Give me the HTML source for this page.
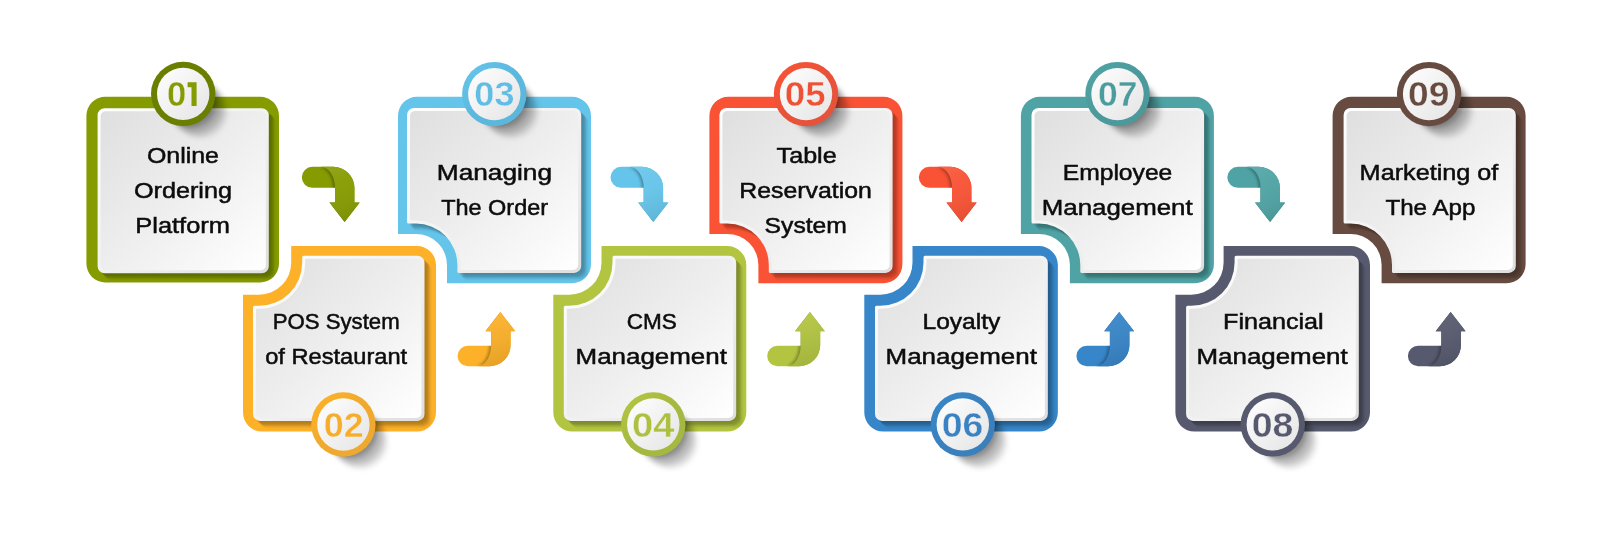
<!DOCTYPE html>
<html lang="en"><head><meta charset="utf-8"><title>Restaurant App Features</title>
<style>html,body{margin:0;padding:0;background:#fff}body{width:1612px;height:535px;overflow:hidden}svg{display:block;will-change:transform}text{font-family:"Liberation Sans",sans-serif}.lbl{font-size:22px;fill:#0c0c0c;stroke:#0c0c0c;stroke-width:.5px}.num{font-size:35.5px;font-weight:bold;stroke:#f3f3f3;stroke-width:.4px}</style></head><body>
<svg width="1612" height="535" viewBox="0 0 1612 535" role="img" aria-label="Nine step restaurant app feature flow">
<defs>
<linearGradient id="gp" x1="0" y1="0" x2="1" y2="1"><stop offset="0" stop-color="#dfdfdf"/><stop offset=".5" stop-color="#eeeeee"/><stop offset="1" stop-color="#ffffff"/></linearGradient>
<linearGradient id="gb" x1="0" y1="0" x2="1" y2="1"><stop offset="0" stop-color="#ffffff"/><stop offset=".5" stop-color="#f2f2f2"/><stop offset="1" stop-color="#dedede"/></linearGradient>
<linearGradient id="gc" x1="0" y1="0" x2="1" y2="1"><stop offset="0" stop-color="#ffffff"/><stop offset="1" stop-color="#e4e4e4"/></linearGradient>
<filter id="bs" x="-50%" y="-50%" width="220%" height="220%"><feGaussianBlur stdDeviation="4"/></filter>
<filter id="b2" x="-50%" y="-50%" width="220%" height="220%"><feGaussianBlur stdDeviation="0.9"/></filter>
<filter id="b3" x="-50%" y="-50%" width="220%" height="220%"><feGaussianBlur stdDeviation="2.4"/></filter>
<filter id="b1" x="-50%" y="-50%" width="200%" height="200%"><feGaussianBlur stdDeviation="1.6"/></filter>
<clipPath id="co1"><path d="M105.4,96.7H260A19,19 0 0 1 279,115.7V263.5A19,19 0 0 1 260,282.5H105.4A19,19 0 0 1 86.4,263.5V115.7A19,19 0 0 1 105.4,96.7Z"/></clipPath>
<clipPath id="co2"><path d="M291.2,246.1H417A19,19 0 0 1 436,265.1V412.6A19,19 0 0 1 417,431.6H262A19,19 0 0 1 243,412.6V294.8H259A32.2,32.2 0 0 0 291.2,262.6V246.1Z"/></clipPath>
<clipPath id="co3"><path d="M417,96.7H572A19,19 0 0 1 591,115.7V264.3A19,19 0 0 1 572,283.3H447V265A31,31 0 0 0 416,234H398V115.7A19,19 0 0 1 417,96.7Z"/></clipPath>
<clipPath id="co4"><path d="M601.5,246.1H727.3A19,19 0 0 1 746.3,265.1V412.6A19,19 0 0 1 727.3,431.6H572.3A19,19 0 0 1 553.3,412.6V294.8H569.3A32.2,32.2 0 0 0 601.5,262.6V246.1Z"/></clipPath>
<clipPath id="co5"><path d="M728.4,96.7H883.4A19,19 0 0 1 902.4,115.7V264.3A19,19 0 0 1 883.4,283.3H758.4V265A31,31 0 0 0 727.4,234H709.4V115.7A19,19 0 0 1 728.4,96.7Z"/></clipPath>
<clipPath id="co6"><path d="M912.5,246.1H1038.85A19,19 0 0 1 1057.85,265.1V412.6A19,19 0 0 1 1038.85,431.6H883.3A19,19 0 0 1 864.3,412.6V294.8H880.3A32.2,32.2 0 0 0 912.5,262.6V246.1Z"/></clipPath>
<clipPath id="co7"><path d="M1039.9,96.7H1194.9A19,19 0 0 1 1213.9,115.7V264.3A19,19 0 0 1 1194.9,283.3H1069.9V265A31,31 0 0 0 1038.9,234H1020.9V115.7A19,19 0 0 1 1039.9,96.7Z"/></clipPath>
<clipPath id="co8"><path d="M1223.6,246.1H1351A19,19 0 0 1 1370,265.1V412.6A19,19 0 0 1 1351,431.6H1194.4A19,19 0 0 1 1175.4,412.6V294.8H1191.4A32.2,32.2 0 0 0 1223.6,262.6V246.1Z"/></clipPath>
<clipPath id="co9"><path d="M1351.6,96.7H1506.6A19,19 0 0 1 1525.6,115.7V264.3A19,19 0 0 1 1506.6,283.3H1381.6V265A31,31 0 0 0 1350.6,234H1332.6V115.7A19,19 0 0 1 1351.6,96.7Z"/></clipPath>
</defs>
<rect width="1612" height="535" fill="#fff"/>
<g id="box1">
<path d="M105.4,96.7H260A19,19 0 0 1 279,115.7V263.5A19,19 0 0 1 260,282.5H105.4A19,19 0 0 1 86.4,263.5V115.7A19,19 0 0 1 105.4,96.7Z" fill="#869b00"/>
<g clip-path="url(#co1)" fill="#000">
<path d="M104.6,108.3H261.8A7,7 0 0 1 268.8,115.3V266.2A7,7 0 0 1 261.8,273.2H104.6A7,7 0 0 1 97.6,266.2V115.3A7,7 0 0 1 104.6,108.3Z" transform="translate(1,1)" fill-opacity="0.02"/>
<path d="M104.6,108.3H261.8A7,7 0 0 1 268.8,115.3V266.2A7,7 0 0 1 261.8,273.2H104.6A7,7 0 0 1 97.6,266.2V115.3A7,7 0 0 1 104.6,108.3Z" transform="translate(2,2)" fill-opacity="0.03"/>
<path d="M104.6,108.3H261.8A7,7 0 0 1 268.8,115.3V266.2A7,7 0 0 1 261.8,273.2H104.6A7,7 0 0 1 97.6,266.2V115.3A7,7 0 0 1 104.6,108.3Z" transform="translate(3,3)" fill-opacity="0.05"/>
<path d="M104.6,108.3H261.8A7,7 0 0 1 268.8,115.3V266.2A7,7 0 0 1 261.8,273.2H104.6A7,7 0 0 1 97.6,266.2V115.3A7,7 0 0 1 104.6,108.3Z" transform="translate(4,4)" fill-opacity="0.07"/>
<path d="M104.6,108.3H261.8A7,7 0 0 1 268.8,115.3V266.2A7,7 0 0 1 261.8,273.2H104.6A7,7 0 0 1 97.6,266.2V115.3A7,7 0 0 1 104.6,108.3Z" transform="translate(5,5)" fill-opacity="0.07"/>
<path d="M104.6,108.3H261.8A7,7 0 0 1 268.8,115.3V266.2A7,7 0 0 1 261.8,273.2H104.6A7,7 0 0 1 97.6,266.2V115.3A7,7 0 0 1 104.6,108.3Z" transform="translate(6,6)" fill-opacity="0.045"/>
<path d="M104.6,108.3H261.8A7,7 0 0 1 268.8,115.3V266.2A7,7 0 0 1 261.8,273.2H104.6A7,7 0 0 1 97.6,266.2V115.3A7,7 0 0 1 104.6,108.3Z" transform="translate(7,7)" fill-opacity="0.025"/>
<path d="M104.6,108.3H261.8A7,7 0 0 1 268.8,115.3V266.2A7,7 0 0 1 261.8,273.2H104.6A7,7 0 0 1 97.6,266.2V115.3A7,7 0 0 1 104.6,108.3Z" transform="translate(8,8)" fill-opacity="0.01"/>
</g>
<path d="M104.6,108.3H261.8A7,7 0 0 1 268.8,115.3V266.2A7,7 0 0 1 261.8,273.2H104.6A7,7 0 0 1 97.6,266.2V115.3A7,7 0 0 1 104.6,108.3Z" fill="url(#gb)"/>
<path d="M105.6,111.3H260.8A5,5 0 0 1 265.8,116.3V265.2A5,5 0 0 1 260.8,270.2H105.6A5,5 0 0 1 100.6,265.2V116.3A5,5 0 0 1 105.6,111.3Z" fill="url(#gp)"/>
</g>
<g id="box2">
<path d="M291.2,246.1H417A19,19 0 0 1 436,265.1V412.6A19,19 0 0 1 417,431.6H262A19,19 0 0 1 243,412.6V294.8H259A32.2,32.2 0 0 0 291.2,262.6V246.1Z" fill="#fdb128"/>
<g clip-path="url(#co2)" fill="#000">
<path d="M303.7,255.8H417.5A7,7 0 0 1 424.5,262.8V413.9A7,7 0 0 1 417.5,420.9H260A7,7 0 0 1 253,413.9V307.3A1.5,1.5 0 0 1 254.5,305.8H259A43.2,43.2 0 0 0 302.2,262.6V257.3A1.5,1.5 0 0 1 303.7,255.8Z" transform="translate(1,1)" fill-opacity="0.02"/>
<path d="M303.7,255.8H417.5A7,7 0 0 1 424.5,262.8V413.9A7,7 0 0 1 417.5,420.9H260A7,7 0 0 1 253,413.9V307.3A1.5,1.5 0 0 1 254.5,305.8H259A43.2,43.2 0 0 0 302.2,262.6V257.3A1.5,1.5 0 0 1 303.7,255.8Z" transform="translate(2,2)" fill-opacity="0.03"/>
<path d="M303.7,255.8H417.5A7,7 0 0 1 424.5,262.8V413.9A7,7 0 0 1 417.5,420.9H260A7,7 0 0 1 253,413.9V307.3A1.5,1.5 0 0 1 254.5,305.8H259A43.2,43.2 0 0 0 302.2,262.6V257.3A1.5,1.5 0 0 1 303.7,255.8Z" transform="translate(3,3)" fill-opacity="0.05"/>
<path d="M303.7,255.8H417.5A7,7 0 0 1 424.5,262.8V413.9A7,7 0 0 1 417.5,420.9H260A7,7 0 0 1 253,413.9V307.3A1.5,1.5 0 0 1 254.5,305.8H259A43.2,43.2 0 0 0 302.2,262.6V257.3A1.5,1.5 0 0 1 303.7,255.8Z" transform="translate(4,4)" fill-opacity="0.07"/>
<path d="M303.7,255.8H417.5A7,7 0 0 1 424.5,262.8V413.9A7,7 0 0 1 417.5,420.9H260A7,7 0 0 1 253,413.9V307.3A1.5,1.5 0 0 1 254.5,305.8H259A43.2,43.2 0 0 0 302.2,262.6V257.3A1.5,1.5 0 0 1 303.7,255.8Z" transform="translate(5,5)" fill-opacity="0.07"/>
<path d="M303.7,255.8H417.5A7,7 0 0 1 424.5,262.8V413.9A7,7 0 0 1 417.5,420.9H260A7,7 0 0 1 253,413.9V307.3A1.5,1.5 0 0 1 254.5,305.8H259A43.2,43.2 0 0 0 302.2,262.6V257.3A1.5,1.5 0 0 1 303.7,255.8Z" transform="translate(6,6)" fill-opacity="0.045"/>
<path d="M303.7,255.8H417.5A7,7 0 0 1 424.5,262.8V413.9A7,7 0 0 1 417.5,420.9H260A7,7 0 0 1 253,413.9V307.3A1.5,1.5 0 0 1 254.5,305.8H259A43.2,43.2 0 0 0 302.2,262.6V257.3A1.5,1.5 0 0 1 303.7,255.8Z" transform="translate(7,7)" fill-opacity="0.025"/>
<path d="M303.7,255.8H417.5A7,7 0 0 1 424.5,262.8V413.9A7,7 0 0 1 417.5,420.9H260A7,7 0 0 1 253,413.9V307.3A1.5,1.5 0 0 1 254.5,305.8H259A43.2,43.2 0 0 0 302.2,262.6V257.3A1.5,1.5 0 0 1 303.7,255.8Z" transform="translate(8,8)" fill-opacity="0.01"/>
</g>
<path d="M303.7,255.8H417.5A7,7 0 0 1 424.5,262.8V413.9A7,7 0 0 1 417.5,420.9H260A7,7 0 0 1 253,413.9V307.3A1.5,1.5 0 0 1 254.5,305.8H259A43.2,43.2 0 0 0 302.2,262.6V257.3A1.5,1.5 0 0 1 303.7,255.8Z" fill="url(#gb)"/>
<path d="M306.2,258.8H416.5A5,5 0 0 1 421.5,263.8V412.9A5,5 0 0 1 416.5,417.9H261A5,5 0 0 1 256,412.9V309.8A1,1 0 0 1 257,308.8H259A46.2,46.2 0 0 0 305.2,262.6V259.8A1,1 0 0 1 306.2,258.8Z" fill="url(#gp)"/>
</g>
<g id="box3">
<path d="M417,96.7H572A19,19 0 0 1 591,115.7V264.3A19,19 0 0 1 572,283.3H447V265A31,31 0 0 0 416,234H398V115.7A19,19 0 0 1 417,96.7Z" fill="#64c4ea"/>
<g clip-path="url(#co3)" fill="#000">
<path d="M414,107.9H574.2A7,7 0 0 1 581.2,114.9V265.9A7,7 0 0 1 574.2,272.9H458.9A1.5,1.5 0 0 1 457.4,271.4V265A41.4,41.4 0 0 0 416,223.6H408.5A1.5,1.5 0 0 1 407,222.1V114.9A7,7 0 0 1 414,107.9Z" transform="translate(1,1)" fill-opacity="0.02"/>
<path d="M414,107.9H574.2A7,7 0 0 1 581.2,114.9V265.9A7,7 0 0 1 574.2,272.9H458.9A1.5,1.5 0 0 1 457.4,271.4V265A41.4,41.4 0 0 0 416,223.6H408.5A1.5,1.5 0 0 1 407,222.1V114.9A7,7 0 0 1 414,107.9Z" transform="translate(2,2)" fill-opacity="0.03"/>
<path d="M414,107.9H574.2A7,7 0 0 1 581.2,114.9V265.9A7,7 0 0 1 574.2,272.9H458.9A1.5,1.5 0 0 1 457.4,271.4V265A41.4,41.4 0 0 0 416,223.6H408.5A1.5,1.5 0 0 1 407,222.1V114.9A7,7 0 0 1 414,107.9Z" transform="translate(3,3)" fill-opacity="0.05"/>
<path d="M414,107.9H574.2A7,7 0 0 1 581.2,114.9V265.9A7,7 0 0 1 574.2,272.9H458.9A1.5,1.5 0 0 1 457.4,271.4V265A41.4,41.4 0 0 0 416,223.6H408.5A1.5,1.5 0 0 1 407,222.1V114.9A7,7 0 0 1 414,107.9Z" transform="translate(4,4)" fill-opacity="0.07"/>
<path d="M414,107.9H574.2A7,7 0 0 1 581.2,114.9V265.9A7,7 0 0 1 574.2,272.9H458.9A1.5,1.5 0 0 1 457.4,271.4V265A41.4,41.4 0 0 0 416,223.6H408.5A1.5,1.5 0 0 1 407,222.1V114.9A7,7 0 0 1 414,107.9Z" transform="translate(5,5)" fill-opacity="0.07"/>
<path d="M414,107.9H574.2A7,7 0 0 1 581.2,114.9V265.9A7,7 0 0 1 574.2,272.9H458.9A1.5,1.5 0 0 1 457.4,271.4V265A41.4,41.4 0 0 0 416,223.6H408.5A1.5,1.5 0 0 1 407,222.1V114.9A7,7 0 0 1 414,107.9Z" transform="translate(6,6)" fill-opacity="0.045"/>
<path d="M414,107.9H574.2A7,7 0 0 1 581.2,114.9V265.9A7,7 0 0 1 574.2,272.9H458.9A1.5,1.5 0 0 1 457.4,271.4V265A41.4,41.4 0 0 0 416,223.6H408.5A1.5,1.5 0 0 1 407,222.1V114.9A7,7 0 0 1 414,107.9Z" transform="translate(7,7)" fill-opacity="0.025"/>
<path d="M414,107.9H574.2A7,7 0 0 1 581.2,114.9V265.9A7,7 0 0 1 574.2,272.9H458.9A1.5,1.5 0 0 1 457.4,271.4V265A41.4,41.4 0 0 0 416,223.6H408.5A1.5,1.5 0 0 1 407,222.1V114.9A7,7 0 0 1 414,107.9Z" transform="translate(8,8)" fill-opacity="0.01"/>
</g>
<path d="M414,107.9H574.2A7,7 0 0 1 581.2,114.9V265.9A7,7 0 0 1 574.2,272.9H458.9A1.5,1.5 0 0 1 457.4,271.4V265A41.4,41.4 0 0 0 416,223.6H408.5A1.5,1.5 0 0 1 407,222.1V114.9A7,7 0 0 1 414,107.9Z" fill="url(#gb)"/>
<path d="M415,110.9H573.2A5,5 0 0 1 578.2,115.9V264.9A5,5 0 0 1 573.2,269.9H461.4A1,1 0 0 1 460.4,268.9V265A44.4,44.4 0 0 0 416,220.6H411A1,1 0 0 1 410,219.6V115.9A5,5 0 0 1 415,110.9Z" fill="url(#gp)"/>
</g>
<g id="box4">
<path d="M601.5,246.1H727.3A19,19 0 0 1 746.3,265.1V412.6A19,19 0 0 1 727.3,431.6H572.3A19,19 0 0 1 553.3,412.6V294.8H569.3A32.2,32.2 0 0 0 601.5,262.6V246.1Z" fill="#b3c540"/>
<g clip-path="url(#co4)" fill="#000">
<path d="M614,255.8H729.2A7,7 0 0 1 736.2,262.8V413.9A7,7 0 0 1 729.2,420.9H570.8A7,7 0 0 1 563.8,413.9V307.3A1.5,1.5 0 0 1 565.3,305.8H569.3A43.2,43.2 0 0 0 612.5,262.6V257.3A1.5,1.5 0 0 1 614,255.8Z" transform="translate(1,1)" fill-opacity="0.02"/>
<path d="M614,255.8H729.2A7,7 0 0 1 736.2,262.8V413.9A7,7 0 0 1 729.2,420.9H570.8A7,7 0 0 1 563.8,413.9V307.3A1.5,1.5 0 0 1 565.3,305.8H569.3A43.2,43.2 0 0 0 612.5,262.6V257.3A1.5,1.5 0 0 1 614,255.8Z" transform="translate(2,2)" fill-opacity="0.03"/>
<path d="M614,255.8H729.2A7,7 0 0 1 736.2,262.8V413.9A7,7 0 0 1 729.2,420.9H570.8A7,7 0 0 1 563.8,413.9V307.3A1.5,1.5 0 0 1 565.3,305.8H569.3A43.2,43.2 0 0 0 612.5,262.6V257.3A1.5,1.5 0 0 1 614,255.8Z" transform="translate(3,3)" fill-opacity="0.05"/>
<path d="M614,255.8H729.2A7,7 0 0 1 736.2,262.8V413.9A7,7 0 0 1 729.2,420.9H570.8A7,7 0 0 1 563.8,413.9V307.3A1.5,1.5 0 0 1 565.3,305.8H569.3A43.2,43.2 0 0 0 612.5,262.6V257.3A1.5,1.5 0 0 1 614,255.8Z" transform="translate(4,4)" fill-opacity="0.07"/>
<path d="M614,255.8H729.2A7,7 0 0 1 736.2,262.8V413.9A7,7 0 0 1 729.2,420.9H570.8A7,7 0 0 1 563.8,413.9V307.3A1.5,1.5 0 0 1 565.3,305.8H569.3A43.2,43.2 0 0 0 612.5,262.6V257.3A1.5,1.5 0 0 1 614,255.8Z" transform="translate(5,5)" fill-opacity="0.07"/>
<path d="M614,255.8H729.2A7,7 0 0 1 736.2,262.8V413.9A7,7 0 0 1 729.2,420.9H570.8A7,7 0 0 1 563.8,413.9V307.3A1.5,1.5 0 0 1 565.3,305.8H569.3A43.2,43.2 0 0 0 612.5,262.6V257.3A1.5,1.5 0 0 1 614,255.8Z" transform="translate(6,6)" fill-opacity="0.045"/>
<path d="M614,255.8H729.2A7,7 0 0 1 736.2,262.8V413.9A7,7 0 0 1 729.2,420.9H570.8A7,7 0 0 1 563.8,413.9V307.3A1.5,1.5 0 0 1 565.3,305.8H569.3A43.2,43.2 0 0 0 612.5,262.6V257.3A1.5,1.5 0 0 1 614,255.8Z" transform="translate(7,7)" fill-opacity="0.025"/>
<path d="M614,255.8H729.2A7,7 0 0 1 736.2,262.8V413.9A7,7 0 0 1 729.2,420.9H570.8A7,7 0 0 1 563.8,413.9V307.3A1.5,1.5 0 0 1 565.3,305.8H569.3A43.2,43.2 0 0 0 612.5,262.6V257.3A1.5,1.5 0 0 1 614,255.8Z" transform="translate(8,8)" fill-opacity="0.01"/>
</g>
<path d="M614,255.8H729.2A7,7 0 0 1 736.2,262.8V413.9A7,7 0 0 1 729.2,420.9H570.8A7,7 0 0 1 563.8,413.9V307.3A1.5,1.5 0 0 1 565.3,305.8H569.3A43.2,43.2 0 0 0 612.5,262.6V257.3A1.5,1.5 0 0 1 614,255.8Z" fill="url(#gb)"/>
<path d="M616.5,258.8H728.2A5,5 0 0 1 733.2,263.8V412.9A5,5 0 0 1 728.2,417.9H571.8A5,5 0 0 1 566.8,412.9V309.8A1,1 0 0 1 567.8,308.8H569.3A46.2,46.2 0 0 0 615.5,262.6V259.8A1,1 0 0 1 616.5,258.8Z" fill="url(#gp)"/>
</g>
<g id="box5">
<path d="M728.4,96.7H883.4A19,19 0 0 1 902.4,115.7V264.3A19,19 0 0 1 883.4,283.3H758.4V265A31,31 0 0 0 727.4,234H709.4V115.7A19,19 0 0 1 728.4,96.7Z" fill="#f95234"/>
<g clip-path="url(#co5)" fill="#000">
<path d="M726.4,107.9H885.6A7,7 0 0 1 892.6,114.9V265.9A7,7 0 0 1 885.6,272.9H770.3A1.5,1.5 0 0 1 768.8,271.4V265A41.4,41.4 0 0 0 727.4,223.6H720.9A1.5,1.5 0 0 1 719.4,222.1V114.9A7,7 0 0 1 726.4,107.9Z" transform="translate(1,1)" fill-opacity="0.02"/>
<path d="M726.4,107.9H885.6A7,7 0 0 1 892.6,114.9V265.9A7,7 0 0 1 885.6,272.9H770.3A1.5,1.5 0 0 1 768.8,271.4V265A41.4,41.4 0 0 0 727.4,223.6H720.9A1.5,1.5 0 0 1 719.4,222.1V114.9A7,7 0 0 1 726.4,107.9Z" transform="translate(2,2)" fill-opacity="0.03"/>
<path d="M726.4,107.9H885.6A7,7 0 0 1 892.6,114.9V265.9A7,7 0 0 1 885.6,272.9H770.3A1.5,1.5 0 0 1 768.8,271.4V265A41.4,41.4 0 0 0 727.4,223.6H720.9A1.5,1.5 0 0 1 719.4,222.1V114.9A7,7 0 0 1 726.4,107.9Z" transform="translate(3,3)" fill-opacity="0.05"/>
<path d="M726.4,107.9H885.6A7,7 0 0 1 892.6,114.9V265.9A7,7 0 0 1 885.6,272.9H770.3A1.5,1.5 0 0 1 768.8,271.4V265A41.4,41.4 0 0 0 727.4,223.6H720.9A1.5,1.5 0 0 1 719.4,222.1V114.9A7,7 0 0 1 726.4,107.9Z" transform="translate(4,4)" fill-opacity="0.07"/>
<path d="M726.4,107.9H885.6A7,7 0 0 1 892.6,114.9V265.9A7,7 0 0 1 885.6,272.9H770.3A1.5,1.5 0 0 1 768.8,271.4V265A41.4,41.4 0 0 0 727.4,223.6H720.9A1.5,1.5 0 0 1 719.4,222.1V114.9A7,7 0 0 1 726.4,107.9Z" transform="translate(5,5)" fill-opacity="0.07"/>
<path d="M726.4,107.9H885.6A7,7 0 0 1 892.6,114.9V265.9A7,7 0 0 1 885.6,272.9H770.3A1.5,1.5 0 0 1 768.8,271.4V265A41.4,41.4 0 0 0 727.4,223.6H720.9A1.5,1.5 0 0 1 719.4,222.1V114.9A7,7 0 0 1 726.4,107.9Z" transform="translate(6,6)" fill-opacity="0.045"/>
<path d="M726.4,107.9H885.6A7,7 0 0 1 892.6,114.9V265.9A7,7 0 0 1 885.6,272.9H770.3A1.5,1.5 0 0 1 768.8,271.4V265A41.4,41.4 0 0 0 727.4,223.6H720.9A1.5,1.5 0 0 1 719.4,222.1V114.9A7,7 0 0 1 726.4,107.9Z" transform="translate(7,7)" fill-opacity="0.025"/>
<path d="M726.4,107.9H885.6A7,7 0 0 1 892.6,114.9V265.9A7,7 0 0 1 885.6,272.9H770.3A1.5,1.5 0 0 1 768.8,271.4V265A41.4,41.4 0 0 0 727.4,223.6H720.9A1.5,1.5 0 0 1 719.4,222.1V114.9A7,7 0 0 1 726.4,107.9Z" transform="translate(8,8)" fill-opacity="0.01"/>
</g>
<path d="M726.4,107.9H885.6A7,7 0 0 1 892.6,114.9V265.9A7,7 0 0 1 885.6,272.9H770.3A1.5,1.5 0 0 1 768.8,271.4V265A41.4,41.4 0 0 0 727.4,223.6H720.9A1.5,1.5 0 0 1 719.4,222.1V114.9A7,7 0 0 1 726.4,107.9Z" fill="url(#gb)"/>
<path d="M727.4,110.9H884.6A5,5 0 0 1 889.6,115.9V264.9A5,5 0 0 1 884.6,269.9H772.8A1,1 0 0 1 771.8,268.9V265A44.4,44.4 0 0 0 727.4,220.6H723.4A1,1 0 0 1 722.4,219.6V115.9A5,5 0 0 1 727.4,110.9Z" fill="url(#gp)"/>
</g>
<g id="box6">
<path d="M912.5,246.1H1038.85A19,19 0 0 1 1057.85,265.1V412.6A19,19 0 0 1 1038.85,431.6H883.3A19,19 0 0 1 864.3,412.6V294.8H880.3A32.2,32.2 0 0 0 912.5,262.6V246.1Z" fill="#3786c9"/>
<g clip-path="url(#co6)" fill="#000">
<path d="M925,255.8H1040.85A7,7 0 0 1 1047.85,262.8V413.9A7,7 0 0 1 1040.85,420.9H882A7,7 0 0 1 875,413.9V307.3A1.5,1.5 0 0 1 876.5,305.8H880.3A43.2,43.2 0 0 0 923.5,262.6V257.3A1.5,1.5 0 0 1 925,255.8Z" transform="translate(1,1)" fill-opacity="0.02"/>
<path d="M925,255.8H1040.85A7,7 0 0 1 1047.85,262.8V413.9A7,7 0 0 1 1040.85,420.9H882A7,7 0 0 1 875,413.9V307.3A1.5,1.5 0 0 1 876.5,305.8H880.3A43.2,43.2 0 0 0 923.5,262.6V257.3A1.5,1.5 0 0 1 925,255.8Z" transform="translate(2,2)" fill-opacity="0.03"/>
<path d="M925,255.8H1040.85A7,7 0 0 1 1047.85,262.8V413.9A7,7 0 0 1 1040.85,420.9H882A7,7 0 0 1 875,413.9V307.3A1.5,1.5 0 0 1 876.5,305.8H880.3A43.2,43.2 0 0 0 923.5,262.6V257.3A1.5,1.5 0 0 1 925,255.8Z" transform="translate(3,3)" fill-opacity="0.05"/>
<path d="M925,255.8H1040.85A7,7 0 0 1 1047.85,262.8V413.9A7,7 0 0 1 1040.85,420.9H882A7,7 0 0 1 875,413.9V307.3A1.5,1.5 0 0 1 876.5,305.8H880.3A43.2,43.2 0 0 0 923.5,262.6V257.3A1.5,1.5 0 0 1 925,255.8Z" transform="translate(4,4)" fill-opacity="0.07"/>
<path d="M925,255.8H1040.85A7,7 0 0 1 1047.85,262.8V413.9A7,7 0 0 1 1040.85,420.9H882A7,7 0 0 1 875,413.9V307.3A1.5,1.5 0 0 1 876.5,305.8H880.3A43.2,43.2 0 0 0 923.5,262.6V257.3A1.5,1.5 0 0 1 925,255.8Z" transform="translate(5,5)" fill-opacity="0.07"/>
<path d="M925,255.8H1040.85A7,7 0 0 1 1047.85,262.8V413.9A7,7 0 0 1 1040.85,420.9H882A7,7 0 0 1 875,413.9V307.3A1.5,1.5 0 0 1 876.5,305.8H880.3A43.2,43.2 0 0 0 923.5,262.6V257.3A1.5,1.5 0 0 1 925,255.8Z" transform="translate(6,6)" fill-opacity="0.045"/>
<path d="M925,255.8H1040.85A7,7 0 0 1 1047.85,262.8V413.9A7,7 0 0 1 1040.85,420.9H882A7,7 0 0 1 875,413.9V307.3A1.5,1.5 0 0 1 876.5,305.8H880.3A43.2,43.2 0 0 0 923.5,262.6V257.3A1.5,1.5 0 0 1 925,255.8Z" transform="translate(7,7)" fill-opacity="0.025"/>
<path d="M925,255.8H1040.85A7,7 0 0 1 1047.85,262.8V413.9A7,7 0 0 1 1040.85,420.9H882A7,7 0 0 1 875,413.9V307.3A1.5,1.5 0 0 1 876.5,305.8H880.3A43.2,43.2 0 0 0 923.5,262.6V257.3A1.5,1.5 0 0 1 925,255.8Z" transform="translate(8,8)" fill-opacity="0.01"/>
</g>
<path d="M925,255.8H1040.85A7,7 0 0 1 1047.85,262.8V413.9A7,7 0 0 1 1040.85,420.9H882A7,7 0 0 1 875,413.9V307.3A1.5,1.5 0 0 1 876.5,305.8H880.3A43.2,43.2 0 0 0 923.5,262.6V257.3A1.5,1.5 0 0 1 925,255.8Z" fill="url(#gb)"/>
<path d="M927.5,258.8H1039.85A5,5 0 0 1 1044.85,263.8V412.9A5,5 0 0 1 1039.85,417.9H883A5,5 0 0 1 878,412.9V309.8A1,1 0 0 1 879,308.8H880.3A46.2,46.2 0 0 0 926.5,262.6V259.8A1,1 0 0 1 927.5,258.8Z" fill="url(#gp)"/>
</g>
<g id="box7">
<path d="M1039.9,96.7H1194.9A19,19 0 0 1 1213.9,115.7V264.3A19,19 0 0 1 1194.9,283.3H1069.9V265A31,31 0 0 0 1038.9,234H1020.9V115.7A19,19 0 0 1 1039.9,96.7Z" fill="#4fa3a4"/>
<g clip-path="url(#co7)" fill="#000">
<path d="M1038.5,107.9H1197.1A7,7 0 0 1 1204.1,114.9V265.9A7,7 0 0 1 1197.1,272.9H1081.8A1.5,1.5 0 0 1 1080.3,271.4V265A41.4,41.4 0 0 0 1038.9,223.6H1033A1.5,1.5 0 0 1 1031.5,222.1V114.9A7,7 0 0 1 1038.5,107.9Z" transform="translate(1,1)" fill-opacity="0.02"/>
<path d="M1038.5,107.9H1197.1A7,7 0 0 1 1204.1,114.9V265.9A7,7 0 0 1 1197.1,272.9H1081.8A1.5,1.5 0 0 1 1080.3,271.4V265A41.4,41.4 0 0 0 1038.9,223.6H1033A1.5,1.5 0 0 1 1031.5,222.1V114.9A7,7 0 0 1 1038.5,107.9Z" transform="translate(2,2)" fill-opacity="0.03"/>
<path d="M1038.5,107.9H1197.1A7,7 0 0 1 1204.1,114.9V265.9A7,7 0 0 1 1197.1,272.9H1081.8A1.5,1.5 0 0 1 1080.3,271.4V265A41.4,41.4 0 0 0 1038.9,223.6H1033A1.5,1.5 0 0 1 1031.5,222.1V114.9A7,7 0 0 1 1038.5,107.9Z" transform="translate(3,3)" fill-opacity="0.05"/>
<path d="M1038.5,107.9H1197.1A7,7 0 0 1 1204.1,114.9V265.9A7,7 0 0 1 1197.1,272.9H1081.8A1.5,1.5 0 0 1 1080.3,271.4V265A41.4,41.4 0 0 0 1038.9,223.6H1033A1.5,1.5 0 0 1 1031.5,222.1V114.9A7,7 0 0 1 1038.5,107.9Z" transform="translate(4,4)" fill-opacity="0.07"/>
<path d="M1038.5,107.9H1197.1A7,7 0 0 1 1204.1,114.9V265.9A7,7 0 0 1 1197.1,272.9H1081.8A1.5,1.5 0 0 1 1080.3,271.4V265A41.4,41.4 0 0 0 1038.9,223.6H1033A1.5,1.5 0 0 1 1031.5,222.1V114.9A7,7 0 0 1 1038.5,107.9Z" transform="translate(5,5)" fill-opacity="0.07"/>
<path d="M1038.5,107.9H1197.1A7,7 0 0 1 1204.1,114.9V265.9A7,7 0 0 1 1197.1,272.9H1081.8A1.5,1.5 0 0 1 1080.3,271.4V265A41.4,41.4 0 0 0 1038.9,223.6H1033A1.5,1.5 0 0 1 1031.5,222.1V114.9A7,7 0 0 1 1038.5,107.9Z" transform="translate(6,6)" fill-opacity="0.045"/>
<path d="M1038.5,107.9H1197.1A7,7 0 0 1 1204.1,114.9V265.9A7,7 0 0 1 1197.1,272.9H1081.8A1.5,1.5 0 0 1 1080.3,271.4V265A41.4,41.4 0 0 0 1038.9,223.6H1033A1.5,1.5 0 0 1 1031.5,222.1V114.9A7,7 0 0 1 1038.5,107.9Z" transform="translate(7,7)" fill-opacity="0.025"/>
<path d="M1038.5,107.9H1197.1A7,7 0 0 1 1204.1,114.9V265.9A7,7 0 0 1 1197.1,272.9H1081.8A1.5,1.5 0 0 1 1080.3,271.4V265A41.4,41.4 0 0 0 1038.9,223.6H1033A1.5,1.5 0 0 1 1031.5,222.1V114.9A7,7 0 0 1 1038.5,107.9Z" transform="translate(8,8)" fill-opacity="0.01"/>
</g>
<path d="M1038.5,107.9H1197.1A7,7 0 0 1 1204.1,114.9V265.9A7,7 0 0 1 1197.1,272.9H1081.8A1.5,1.5 0 0 1 1080.3,271.4V265A41.4,41.4 0 0 0 1038.9,223.6H1033A1.5,1.5 0 0 1 1031.5,222.1V114.9A7,7 0 0 1 1038.5,107.9Z" fill="url(#gb)"/>
<path d="M1039.5,110.9H1196.1A5,5 0 0 1 1201.1,115.9V264.9A5,5 0 0 1 1196.1,269.9H1084.3A1,1 0 0 1 1083.3,268.9V265A44.4,44.4 0 0 0 1038.9,220.6H1035.5A1,1 0 0 1 1034.5,219.6V115.9A5,5 0 0 1 1039.5,110.9Z" fill="url(#gp)"/>
</g>
<g id="box8">
<path d="M1223.6,246.1H1351A19,19 0 0 1 1370,265.1V412.6A19,19 0 0 1 1351,431.6H1194.4A19,19 0 0 1 1175.4,412.6V294.8H1191.4A32.2,32.2 0 0 0 1223.6,262.6V246.1Z" fill="#575a6e"/>
<g clip-path="url(#co8)" fill="#000">
<path d="M1236.1,255.8H1351.8A7,7 0 0 1 1358.8,262.8V413.9A7,7 0 0 1 1351.8,420.9H1193.1A7,7 0 0 1 1186.1,413.9V307.3A1.5,1.5 0 0 1 1187.6,305.8H1191.4A43.2,43.2 0 0 0 1234.6,262.6V257.3A1.5,1.5 0 0 1 1236.1,255.8Z" transform="translate(1,1)" fill-opacity="0.02"/>
<path d="M1236.1,255.8H1351.8A7,7 0 0 1 1358.8,262.8V413.9A7,7 0 0 1 1351.8,420.9H1193.1A7,7 0 0 1 1186.1,413.9V307.3A1.5,1.5 0 0 1 1187.6,305.8H1191.4A43.2,43.2 0 0 0 1234.6,262.6V257.3A1.5,1.5 0 0 1 1236.1,255.8Z" transform="translate(2,2)" fill-opacity="0.03"/>
<path d="M1236.1,255.8H1351.8A7,7 0 0 1 1358.8,262.8V413.9A7,7 0 0 1 1351.8,420.9H1193.1A7,7 0 0 1 1186.1,413.9V307.3A1.5,1.5 0 0 1 1187.6,305.8H1191.4A43.2,43.2 0 0 0 1234.6,262.6V257.3A1.5,1.5 0 0 1 1236.1,255.8Z" transform="translate(3,3)" fill-opacity="0.05"/>
<path d="M1236.1,255.8H1351.8A7,7 0 0 1 1358.8,262.8V413.9A7,7 0 0 1 1351.8,420.9H1193.1A7,7 0 0 1 1186.1,413.9V307.3A1.5,1.5 0 0 1 1187.6,305.8H1191.4A43.2,43.2 0 0 0 1234.6,262.6V257.3A1.5,1.5 0 0 1 1236.1,255.8Z" transform="translate(4,4)" fill-opacity="0.07"/>
<path d="M1236.1,255.8H1351.8A7,7 0 0 1 1358.8,262.8V413.9A7,7 0 0 1 1351.8,420.9H1193.1A7,7 0 0 1 1186.1,413.9V307.3A1.5,1.5 0 0 1 1187.6,305.8H1191.4A43.2,43.2 0 0 0 1234.6,262.6V257.3A1.5,1.5 0 0 1 1236.1,255.8Z" transform="translate(5,5)" fill-opacity="0.07"/>
<path d="M1236.1,255.8H1351.8A7,7 0 0 1 1358.8,262.8V413.9A7,7 0 0 1 1351.8,420.9H1193.1A7,7 0 0 1 1186.1,413.9V307.3A1.5,1.5 0 0 1 1187.6,305.8H1191.4A43.2,43.2 0 0 0 1234.6,262.6V257.3A1.5,1.5 0 0 1 1236.1,255.8Z" transform="translate(6,6)" fill-opacity="0.045"/>
<path d="M1236.1,255.8H1351.8A7,7 0 0 1 1358.8,262.8V413.9A7,7 0 0 1 1351.8,420.9H1193.1A7,7 0 0 1 1186.1,413.9V307.3A1.5,1.5 0 0 1 1187.6,305.8H1191.4A43.2,43.2 0 0 0 1234.6,262.6V257.3A1.5,1.5 0 0 1 1236.1,255.8Z" transform="translate(7,7)" fill-opacity="0.025"/>
<path d="M1236.1,255.8H1351.8A7,7 0 0 1 1358.8,262.8V413.9A7,7 0 0 1 1351.8,420.9H1193.1A7,7 0 0 1 1186.1,413.9V307.3A1.5,1.5 0 0 1 1187.6,305.8H1191.4A43.2,43.2 0 0 0 1234.6,262.6V257.3A1.5,1.5 0 0 1 1236.1,255.8Z" transform="translate(8,8)" fill-opacity="0.01"/>
</g>
<path d="M1236.1,255.8H1351.8A7,7 0 0 1 1358.8,262.8V413.9A7,7 0 0 1 1351.8,420.9H1193.1A7,7 0 0 1 1186.1,413.9V307.3A1.5,1.5 0 0 1 1187.6,305.8H1191.4A43.2,43.2 0 0 0 1234.6,262.6V257.3A1.5,1.5 0 0 1 1236.1,255.8Z" fill="url(#gb)"/>
<path d="M1238.6,258.8H1350.8A5,5 0 0 1 1355.8,263.8V412.9A5,5 0 0 1 1350.8,417.9H1194.1A5,5 0 0 1 1189.1,412.9V309.8A1,1 0 0 1 1190.1,308.8H1191.4A46.2,46.2 0 0 0 1237.6,262.6V259.8A1,1 0 0 1 1238.6,258.8Z" fill="url(#gp)"/>
</g>
<g id="box9">
<path d="M1351.6,96.7H1506.6A19,19 0 0 1 1525.6,115.7V264.3A19,19 0 0 1 1506.6,283.3H1381.6V265A31,31 0 0 0 1350.6,234H1332.6V115.7A19,19 0 0 1 1351.6,96.7Z" fill="#674b40"/>
<g clip-path="url(#co9)" fill="#000">
<path d="M1350.6,107.9H1508.8A7,7 0 0 1 1515.8,114.9V265.9A7,7 0 0 1 1508.8,272.9H1393.5A1.5,1.5 0 0 1 1392,271.4V265A41.4,41.4 0 0 0 1350.6,223.6H1345.1A1.5,1.5 0 0 1 1343.6,222.1V114.9A7,7 0 0 1 1350.6,107.9Z" transform="translate(1,1)" fill-opacity="0.02"/>
<path d="M1350.6,107.9H1508.8A7,7 0 0 1 1515.8,114.9V265.9A7,7 0 0 1 1508.8,272.9H1393.5A1.5,1.5 0 0 1 1392,271.4V265A41.4,41.4 0 0 0 1350.6,223.6H1345.1A1.5,1.5 0 0 1 1343.6,222.1V114.9A7,7 0 0 1 1350.6,107.9Z" transform="translate(2,2)" fill-opacity="0.03"/>
<path d="M1350.6,107.9H1508.8A7,7 0 0 1 1515.8,114.9V265.9A7,7 0 0 1 1508.8,272.9H1393.5A1.5,1.5 0 0 1 1392,271.4V265A41.4,41.4 0 0 0 1350.6,223.6H1345.1A1.5,1.5 0 0 1 1343.6,222.1V114.9A7,7 0 0 1 1350.6,107.9Z" transform="translate(3,3)" fill-opacity="0.05"/>
<path d="M1350.6,107.9H1508.8A7,7 0 0 1 1515.8,114.9V265.9A7,7 0 0 1 1508.8,272.9H1393.5A1.5,1.5 0 0 1 1392,271.4V265A41.4,41.4 0 0 0 1350.6,223.6H1345.1A1.5,1.5 0 0 1 1343.6,222.1V114.9A7,7 0 0 1 1350.6,107.9Z" transform="translate(4,4)" fill-opacity="0.07"/>
<path d="M1350.6,107.9H1508.8A7,7 0 0 1 1515.8,114.9V265.9A7,7 0 0 1 1508.8,272.9H1393.5A1.5,1.5 0 0 1 1392,271.4V265A41.4,41.4 0 0 0 1350.6,223.6H1345.1A1.5,1.5 0 0 1 1343.6,222.1V114.9A7,7 0 0 1 1350.6,107.9Z" transform="translate(5,5)" fill-opacity="0.07"/>
<path d="M1350.6,107.9H1508.8A7,7 0 0 1 1515.8,114.9V265.9A7,7 0 0 1 1508.8,272.9H1393.5A1.5,1.5 0 0 1 1392,271.4V265A41.4,41.4 0 0 0 1350.6,223.6H1345.1A1.5,1.5 0 0 1 1343.6,222.1V114.9A7,7 0 0 1 1350.6,107.9Z" transform="translate(6,6)" fill-opacity="0.045"/>
<path d="M1350.6,107.9H1508.8A7,7 0 0 1 1515.8,114.9V265.9A7,7 0 0 1 1508.8,272.9H1393.5A1.5,1.5 0 0 1 1392,271.4V265A41.4,41.4 0 0 0 1350.6,223.6H1345.1A1.5,1.5 0 0 1 1343.6,222.1V114.9A7,7 0 0 1 1350.6,107.9Z" transform="translate(7,7)" fill-opacity="0.025"/>
<path d="M1350.6,107.9H1508.8A7,7 0 0 1 1515.8,114.9V265.9A7,7 0 0 1 1508.8,272.9H1393.5A1.5,1.5 0 0 1 1392,271.4V265A41.4,41.4 0 0 0 1350.6,223.6H1345.1A1.5,1.5 0 0 1 1343.6,222.1V114.9A7,7 0 0 1 1350.6,107.9Z" transform="translate(8,8)" fill-opacity="0.01"/>
</g>
<path d="M1350.6,107.9H1508.8A7,7 0 0 1 1515.8,114.9V265.9A7,7 0 0 1 1508.8,272.9H1393.5A1.5,1.5 0 0 1 1392,271.4V265A41.4,41.4 0 0 0 1350.6,223.6H1345.1A1.5,1.5 0 0 1 1343.6,222.1V114.9A7,7 0 0 1 1350.6,107.9Z" fill="url(#gb)"/>
<path d="M1351.6,110.9H1507.8A5,5 0 0 1 1512.8,115.9V264.9A5,5 0 0 1 1507.8,269.9H1396A1,1 0 0 1 1395,268.9V265A44.4,44.4 0 0 0 1350.6,220.6H1347.6A1,1 0 0 1 1346.6,219.6V115.9A5,5 0 0 1 1351.6,110.9Z" fill="url(#gp)"/>
</g>
<text class="lbl" x="146.95" y="162.8" textLength="72" lengthAdjust="spacingAndGlyphs">Online</text>
<text class="lbl" x="133.9" y="197.7" textLength="98.09" lengthAdjust="spacingAndGlyphs">Ordering</text>
<text class="lbl" x="135.31" y="232.7" textLength="94.67" lengthAdjust="spacingAndGlyphs">Platform</text>
<text class="lbl" x="272.76" y="328.7" textLength="126.85" lengthAdjust="spacingAndGlyphs">POS System</text>
<text class="lbl" x="265.21" y="363.5" textLength="141.96" lengthAdjust="spacingAndGlyphs">of Restaurant</text>
<text class="lbl" x="436.89" y="179.7" textLength="115.13" lengthAdjust="spacingAndGlyphs">Managing</text>
<text class="lbl" x="441.15" y="214.8" textLength="106.92" lengthAdjust="spacingAndGlyphs">The Order</text>
<text class="lbl" x="626.78" y="328.5" textLength="50.03" lengthAdjust="spacingAndGlyphs">CMS</text>
<text class="lbl" x="575.58" y="363.8" textLength="151.33" lengthAdjust="spacingAndGlyphs">Management</text>
<text class="lbl" x="776.59" y="162.7" textLength="60.1" lengthAdjust="spacingAndGlyphs">Table</text>
<text class="lbl" x="739.29" y="197.7" textLength="132.57" lengthAdjust="spacingAndGlyphs">Reservation</text>
<text class="lbl" x="764.63" y="232.9" textLength="82.28" lengthAdjust="spacingAndGlyphs">System</text>
<text class="lbl" x="922.51" y="328.7" textLength="77.86" lengthAdjust="spacingAndGlyphs">Loyalty</text>
<text class="lbl" x="885.58" y="363.8" textLength="151.33" lengthAdjust="spacingAndGlyphs">Management</text>
<text class="lbl" x="1062.69" y="179.7" textLength="109.66" lengthAdjust="spacingAndGlyphs">Employee</text>
<text class="lbl" x="1041.8" y="214.8" textLength="150.87" lengthAdjust="spacingAndGlyphs">Management</text>
<text class="lbl" x="1223.08" y="328.7" textLength="100.59" lengthAdjust="spacingAndGlyphs">Financial</text>
<text class="lbl" x="1196.57" y="363.8" textLength="151.07" lengthAdjust="spacingAndGlyphs">Management</text>
<text class="lbl" x="1359.64" y="179.7" textLength="138.75" lengthAdjust="spacingAndGlyphs">Marketing of</text>
<text class="lbl" x="1385.42" y="214.8" textLength="89.93" lengthAdjust="spacingAndGlyphs">The App</text>
<g id="badge1">
<g filter="url(#b3)" fill="#000" fill-opacity=".04">
<circle cx="192.2" cy="102.9" r="27"/>
<circle cx="193.2" cy="103.9" r="27"/>
<circle cx="194.2" cy="104.9" r="27"/>
<circle cx="195.2" cy="105.9" r="27"/>
<circle cx="196.2" cy="106.9" r="27"/>
<circle cx="197.2" cy="107.9" r="27"/>
<circle cx="198.2" cy="108.9" r="27"/>
<circle cx="199.2" cy="109.9" r="27"/>
<circle cx="200.2" cy="110.9" r="27"/>
<circle cx="201.2" cy="111.9" r="27"/>
</g>
<g filter="url(#b2)" fill="#000" fill-opacity=".05">
<circle cx="184.2" cy="94.9" r="27"/>
<circle cx="185.2" cy="95.9" r="27"/>
<circle cx="186.2" cy="96.9" r="27"/>
<circle cx="187.2" cy="97.9" r="27"/>
<circle cx="188.2" cy="98.9" r="27"/>
<circle cx="189.2" cy="99.9" r="27"/>
<circle cx="190.2" cy="100.9" r="27"/>
<circle cx="191.2" cy="101.9" r="27"/>
</g>
<linearGradient id="gr1" x1="0.1" y1="0.1" x2="0.9" y2="0.9"><stop offset="0" stop-color="#6a7f00"/><stop offset=".5" stop-color="#6a7f00"/><stop offset="1" stop-color="#6a7f00"/></linearGradient>
<circle cx="183.2" cy="93.9" r="32.2" fill="url(#gr1)"/>
<circle cx="183.2" cy="93.9" r="26.2" fill="url(#gc)"/>
<text class="num" x="167.1" y="106.2" textLength="19.3" lengthAdjust="spacingAndGlyphs" fill="#869b00">0</text>
<path d="M187.6,82.3H196.6V106.1H191.5V87.2H187.6Z" fill="#869b00"/>
</g>
<g id="badge2">
<g filter="url(#b3)" fill="#000" fill-opacity=".04">
<circle cx="352.4" cy="433.5" r="27"/>
<circle cx="353.4" cy="434.5" r="27"/>
<circle cx="354.4" cy="435.5" r="27"/>
<circle cx="355.4" cy="436.5" r="27"/>
<circle cx="356.4" cy="437.5" r="27"/>
<circle cx="357.4" cy="438.5" r="27"/>
<circle cx="358.4" cy="439.5" r="27"/>
<circle cx="359.4" cy="440.5" r="27"/>
<circle cx="360.4" cy="441.5" r="27"/>
<circle cx="361.4" cy="442.5" r="27"/>
</g>
<g filter="url(#b2)" fill="#000" fill-opacity=".05">
<circle cx="344.4" cy="425.5" r="27"/>
<circle cx="345.4" cy="426.5" r="27"/>
<circle cx="346.4" cy="427.5" r="27"/>
<circle cx="347.4" cy="428.5" r="27"/>
<circle cx="348.4" cy="429.5" r="27"/>
<circle cx="349.4" cy="430.5" r="27"/>
<circle cx="350.4" cy="431.5" r="27"/>
<circle cx="351.4" cy="432.5" r="27"/>
</g>
<linearGradient id="gr2" x1="0.1" y1="0.1" x2="0.9" y2="0.9"><stop offset="0" stop-color="#fdb128"/><stop offset=".5" stop-color="#efa92e"/><stop offset="1" stop-color="#efa92e"/></linearGradient>
<circle cx="343.4" cy="424.5" r="32.2" fill="url(#gr2)"/>
<circle cx="343.4" cy="424.5" r="26.2" fill="url(#gc)"/>
<text class="num" x="323.72" y="436.8" textLength="39.93" lengthAdjust="spacingAndGlyphs" fill="#f8ad2a">02</text>
</g>
<g id="badge3">
<g filter="url(#b3)" fill="#000" fill-opacity=".04">
<circle cx="503.3" cy="103.1" r="27"/>
<circle cx="504.3" cy="104.1" r="27"/>
<circle cx="505.3" cy="105.1" r="27"/>
<circle cx="506.3" cy="106.1" r="27"/>
<circle cx="507.3" cy="107.1" r="27"/>
<circle cx="508.3" cy="108.1" r="27"/>
<circle cx="509.3" cy="109.1" r="27"/>
<circle cx="510.3" cy="110.1" r="27"/>
<circle cx="511.3" cy="111.1" r="27"/>
<circle cx="512.3" cy="112.1" r="27"/>
</g>
<g filter="url(#b2)" fill="#000" fill-opacity=".05">
<circle cx="495.3" cy="95.1" r="27"/>
<circle cx="496.3" cy="96.1" r="27"/>
<circle cx="497.3" cy="97.1" r="27"/>
<circle cx="498.3" cy="98.1" r="27"/>
<circle cx="499.3" cy="99.1" r="27"/>
<circle cx="500.3" cy="100.1" r="27"/>
<circle cx="501.3" cy="101.1" r="27"/>
<circle cx="502.3" cy="102.1" r="27"/>
</g>
<linearGradient id="gr3" x1="0.1" y1="0.1" x2="0.9" y2="0.9"><stop offset="0" stop-color="#64c4ea"/><stop offset=".5" stop-color="#5cb7dd"/><stop offset="1" stop-color="#5cb7dd"/></linearGradient>
<circle cx="494.3" cy="94.1" r="32.2" fill="url(#gr3)"/>
<circle cx="494.3" cy="94.1" r="26.2" fill="url(#gc)"/>
<text class="num" x="474.31" y="106.4" textLength="40.25" lengthAdjust="spacingAndGlyphs" fill="#5fbde6">03</text>
</g>
<g id="badge4">
<g filter="url(#b3)" fill="#000" fill-opacity=".04">
<circle cx="662.3" cy="433.4" r="27"/>
<circle cx="663.3" cy="434.4" r="27"/>
<circle cx="664.3" cy="435.4" r="27"/>
<circle cx="665.3" cy="436.4" r="27"/>
<circle cx="666.3" cy="437.4" r="27"/>
<circle cx="667.3" cy="438.4" r="27"/>
<circle cx="668.3" cy="439.4" r="27"/>
<circle cx="669.3" cy="440.4" r="27"/>
<circle cx="670.3" cy="441.4" r="27"/>
<circle cx="671.3" cy="442.4" r="27"/>
</g>
<g filter="url(#b2)" fill="#000" fill-opacity=".05">
<circle cx="654.3" cy="425.4" r="27"/>
<circle cx="655.3" cy="426.4" r="27"/>
<circle cx="656.3" cy="427.4" r="27"/>
<circle cx="657.3" cy="428.4" r="27"/>
<circle cx="658.3" cy="429.4" r="27"/>
<circle cx="659.3" cy="430.4" r="27"/>
<circle cx="660.3" cy="431.4" r="27"/>
<circle cx="661.3" cy="432.4" r="27"/>
</g>
<linearGradient id="gr4" x1="0.1" y1="0.1" x2="0.9" y2="0.9"><stop offset="0" stop-color="#b3c540"/><stop offset=".5" stop-color="#a5b83f"/><stop offset="1" stop-color="#a5b83f"/></linearGradient>
<circle cx="653.3" cy="424.4" r="32.2" fill="url(#gr4)"/>
<circle cx="653.3" cy="424.4" r="26.2" fill="url(#gc)"/>
<text class="num" x="632.02" y="436.7" textLength="42.51" lengthAdjust="spacingAndGlyphs" fill="#aec03f">04</text>
</g>
<g id="badge5">
<g filter="url(#b3)" fill="#000" fill-opacity=".04">
<circle cx="815" cy="103.1" r="27"/>
<circle cx="816" cy="104.1" r="27"/>
<circle cx="817" cy="105.1" r="27"/>
<circle cx="818" cy="106.1" r="27"/>
<circle cx="819" cy="107.1" r="27"/>
<circle cx="820" cy="108.1" r="27"/>
<circle cx="821" cy="109.1" r="27"/>
<circle cx="822" cy="110.1" r="27"/>
<circle cx="823" cy="111.1" r="27"/>
<circle cx="824" cy="112.1" r="27"/>
</g>
<g filter="url(#b2)" fill="#000" fill-opacity=".05">
<circle cx="807" cy="95.1" r="27"/>
<circle cx="808" cy="96.1" r="27"/>
<circle cx="809" cy="97.1" r="27"/>
<circle cx="810" cy="98.1" r="27"/>
<circle cx="811" cy="99.1" r="27"/>
<circle cx="812" cy="100.1" r="27"/>
<circle cx="813" cy="101.1" r="27"/>
<circle cx="814" cy="102.1" r="27"/>
</g>
<linearGradient id="gr5" x1="0.1" y1="0.1" x2="0.9" y2="0.9"><stop offset="0" stop-color="#f95234"/><stop offset=".5" stop-color="#e8523a"/><stop offset="1" stop-color="#e8523a"/></linearGradient>
<circle cx="806" cy="94.1" r="32.2" fill="url(#gr5)"/>
<circle cx="806" cy="94.1" r="26.2" fill="url(#gc)"/>
<text class="num" x="784.78" y="106.4" textLength="40.9" lengthAdjust="spacingAndGlyphs" fill="#ee5136">05</text>
</g>
<g id="badge6">
<g filter="url(#b3)" fill="#000" fill-opacity=".04">
<circle cx="971.8" cy="433.4" r="27"/>
<circle cx="972.8" cy="434.4" r="27"/>
<circle cx="973.8" cy="435.4" r="27"/>
<circle cx="974.8" cy="436.4" r="27"/>
<circle cx="975.8" cy="437.4" r="27"/>
<circle cx="976.8" cy="438.4" r="27"/>
<circle cx="977.8" cy="439.4" r="27"/>
<circle cx="978.8" cy="440.4" r="27"/>
<circle cx="979.8" cy="441.4" r="27"/>
<circle cx="980.8" cy="442.4" r="27"/>
</g>
<g filter="url(#b2)" fill="#000" fill-opacity=".05">
<circle cx="963.8" cy="425.4" r="27"/>
<circle cx="964.8" cy="426.4" r="27"/>
<circle cx="965.8" cy="427.4" r="27"/>
<circle cx="966.8" cy="428.4" r="27"/>
<circle cx="967.8" cy="429.4" r="27"/>
<circle cx="968.8" cy="430.4" r="27"/>
<circle cx="969.8" cy="431.4" r="27"/>
<circle cx="970.8" cy="432.4" r="27"/>
</g>
<linearGradient id="gr6" x1="0.1" y1="0.1" x2="0.9" y2="0.9"><stop offset="0" stop-color="#3786c9"/><stop offset=".5" stop-color="#3a80bd"/><stop offset="1" stop-color="#3a80bd"/></linearGradient>
<circle cx="962.8" cy="424.4" r="32.2" fill="url(#gr6)"/>
<circle cx="962.8" cy="424.4" r="26.2" fill="url(#gc)"/>
<text class="num" x="941.65" y="436.7" textLength="41.65" lengthAdjust="spacingAndGlyphs" fill="#3a82c2">06</text>
</g>
<g id="badge7">
<g filter="url(#b3)" fill="#000" fill-opacity=".04">
<circle cx="1126.5" cy="103.1" r="27"/>
<circle cx="1127.5" cy="104.1" r="27"/>
<circle cx="1128.5" cy="105.1" r="27"/>
<circle cx="1129.5" cy="106.1" r="27"/>
<circle cx="1130.5" cy="107.1" r="27"/>
<circle cx="1131.5" cy="108.1" r="27"/>
<circle cx="1132.5" cy="109.1" r="27"/>
<circle cx="1133.5" cy="110.1" r="27"/>
<circle cx="1134.5" cy="111.1" r="27"/>
<circle cx="1135.5" cy="112.1" r="27"/>
</g>
<g filter="url(#b2)" fill="#000" fill-opacity=".05">
<circle cx="1118.5" cy="95.1" r="27"/>
<circle cx="1119.5" cy="96.1" r="27"/>
<circle cx="1120.5" cy="97.1" r="27"/>
<circle cx="1121.5" cy="98.1" r="27"/>
<circle cx="1122.5" cy="99.1" r="27"/>
<circle cx="1123.5" cy="100.1" r="27"/>
<circle cx="1124.5" cy="101.1" r="27"/>
<circle cx="1125.5" cy="102.1" r="27"/>
</g>
<linearGradient id="gr7" x1="0.1" y1="0.1" x2="0.9" y2="0.9"><stop offset="0" stop-color="#4fa3a4"/><stop offset=".5" stop-color="#4c999b"/><stop offset="1" stop-color="#4c999b"/></linearGradient>
<circle cx="1117.5" cy="94.1" r="32.2" fill="url(#gr7)"/>
<circle cx="1117.5" cy="94.1" r="26.2" fill="url(#gc)"/>
<text class="num" x="1098.09" y="106.4" textLength="39.44" lengthAdjust="spacingAndGlyphs" fill="#4c9c9e">07</text>
</g>
<g id="badge8">
<g filter="url(#b3)" fill="#000" fill-opacity=".04">
<circle cx="1281.8" cy="433.4" r="27"/>
<circle cx="1282.8" cy="434.4" r="27"/>
<circle cx="1283.8" cy="435.4" r="27"/>
<circle cx="1284.8" cy="436.4" r="27"/>
<circle cx="1285.8" cy="437.4" r="27"/>
<circle cx="1286.8" cy="438.4" r="27"/>
<circle cx="1287.8" cy="439.4" r="27"/>
<circle cx="1288.8" cy="440.4" r="27"/>
<circle cx="1289.8" cy="441.4" r="27"/>
<circle cx="1290.8" cy="442.4" r="27"/>
</g>
<g filter="url(#b2)" fill="#000" fill-opacity=".05">
<circle cx="1273.8" cy="425.4" r="27"/>
<circle cx="1274.8" cy="426.4" r="27"/>
<circle cx="1275.8" cy="427.4" r="27"/>
<circle cx="1276.8" cy="428.4" r="27"/>
<circle cx="1277.8" cy="429.4" r="27"/>
<circle cx="1278.8" cy="430.4" r="27"/>
<circle cx="1279.8" cy="431.4" r="27"/>
<circle cx="1280.8" cy="432.4" r="27"/>
</g>
<linearGradient id="gr8" x1="0.1" y1="0.1" x2="0.9" y2="0.9"><stop offset="0" stop-color="#575a6e"/><stop offset=".5" stop-color="#575a6e"/><stop offset="1" stop-color="#575a6e"/></linearGradient>
<circle cx="1272.8" cy="424.4" r="32.2" fill="url(#gr8)"/>
<circle cx="1272.8" cy="424.4" r="26.2" fill="url(#gc)"/>
<text class="num" x="1251.65" y="436.7" textLength="41.65" lengthAdjust="spacingAndGlyphs" fill="#575a6e">08</text>
</g>
<g id="badge9">
<g filter="url(#b3)" fill="#000" fill-opacity=".04">
<circle cx="1438.1" cy="103.1" r="27"/>
<circle cx="1439.1" cy="104.1" r="27"/>
<circle cx="1440.1" cy="105.1" r="27"/>
<circle cx="1441.1" cy="106.1" r="27"/>
<circle cx="1442.1" cy="107.1" r="27"/>
<circle cx="1443.1" cy="108.1" r="27"/>
<circle cx="1444.1" cy="109.1" r="27"/>
<circle cx="1445.1" cy="110.1" r="27"/>
<circle cx="1446.1" cy="111.1" r="27"/>
<circle cx="1447.1" cy="112.1" r="27"/>
</g>
<g filter="url(#b2)" fill="#000" fill-opacity=".05">
<circle cx="1430.1" cy="95.1" r="27"/>
<circle cx="1431.1" cy="96.1" r="27"/>
<circle cx="1432.1" cy="97.1" r="27"/>
<circle cx="1433.1" cy="98.1" r="27"/>
<circle cx="1434.1" cy="99.1" r="27"/>
<circle cx="1435.1" cy="100.1" r="27"/>
<circle cx="1436.1" cy="101.1" r="27"/>
<circle cx="1437.1" cy="102.1" r="27"/>
</g>
<linearGradient id="gr9" x1="0.1" y1="0.1" x2="0.9" y2="0.9"><stop offset="0" stop-color="#674b40"/><stop offset=".5" stop-color="#674b40"/><stop offset="1" stop-color="#674b40"/></linearGradient>
<circle cx="1429.1" cy="94.1" r="32.2" fill="url(#gr9)"/>
<circle cx="1429.1" cy="94.1" r="26.2" fill="url(#gc)"/>
<text class="num" x="1408.02" y="106.4" textLength="41.38" lengthAdjust="spacingAndGlyphs" fill="#674b40">09</text>
</g>
<g id="arrow1"><clipPath id="ca1"><path d="M312.3,166.8H333.4A21,21 0 0 1 354.4,187.8V202.5H359.7L344.6,222L329.5,202.5H335V187.8H312.3A10.5,10.5 0 0 1 312.3,166.8Z"/></clipPath><linearGradient id="ga1" gradientUnits="userSpaceOnUse" x1="325" y1="166.8" x2="354.4" y2="222"><stop offset="0" stop-color="#fff" stop-opacity=".10"/><stop offset=".35" stop-color="#fff" stop-opacity=".04"/><stop offset="1" stop-color="#000" stop-opacity=".10"/></linearGradient><path d="M312.3,166.8H333.4A21,21 0 0 1 354.4,187.8V202.5H359.7L344.6,222L329.5,202.5H335V187.8H312.3A10.5,10.5 0 0 1 312.3,166.8Z" fill="#869b00"/><g clip-path="url(#ca1)"><path d="M321,166.8H333.4A21,21 0 0 1 354.4,187.8V202.5H359.7L344.6,222L329.5,202.5H335V187.8A14,21 0 0 0 321,166.8Z" fill="#000" fill-opacity=".3" filter="url(#b1)" transform="translate(-2,0.5)"/></g><path d="M321,166.8H333.4A21,21 0 0 1 354.4,187.8V202.5H359.7L344.6,222L329.5,202.5H335V187.8A14,21 0 0 0 321,166.8Z" fill="#869b00"/><path d="M321,166.8H333.4A21,21 0 0 1 354.4,187.8V202.5H359.7L344.6,222L329.5,202.5H335V187.8A14,21 0 0 0 321,166.8Z" fill="url(#ga1)"/></g>
<g id="arrow3"><clipPath id="ca3"><path d="M621,166.8H642.1A21,21 0 0 1 663.1,187.8V202.5H668.4L653.3,222L638.2,202.5H643.7V187.8H621A10.5,10.5 0 0 1 621,166.8Z"/></clipPath><linearGradient id="ga3" gradientUnits="userSpaceOnUse" x1="633.7" y1="166.8" x2="663.1" y2="222"><stop offset="0" stop-color="#fff" stop-opacity=".10"/><stop offset=".35" stop-color="#fff" stop-opacity=".04"/><stop offset="1" stop-color="#000" stop-opacity=".10"/></linearGradient><path d="M621,166.8H642.1A21,21 0 0 1 663.1,187.8V202.5H668.4L653.3,222L638.2,202.5H643.7V187.8H621A10.5,10.5 0 0 1 621,166.8Z" fill="#64c4ea"/><g clip-path="url(#ca3)"><path d="M629.7,166.8H642.1A21,21 0 0 1 663.1,187.8V202.5H668.4L653.3,222L638.2,202.5H643.7V187.8A14,21 0 0 0 629.7,166.8Z" fill="#000" fill-opacity=".3" filter="url(#b1)" transform="translate(-2,0.5)"/></g><path d="M629.7,166.8H642.1A21,21 0 0 1 663.1,187.8V202.5H668.4L653.3,222L638.2,202.5H643.7V187.8A14,21 0 0 0 629.7,166.8Z" fill="#64c4ea"/><path d="M629.7,166.8H642.1A21,21 0 0 1 663.1,187.8V202.5H668.4L653.3,222L638.2,202.5H643.7V187.8A14,21 0 0 0 629.7,166.8Z" fill="url(#ga3)"/></g>
<g id="arrow5"><clipPath id="ca5"><path d="M929.3,166.8H950.4A21,21 0 0 1 971.4,187.8V202.5H976.7L961.6,222L946.5,202.5H952V187.8H929.3A10.5,10.5 0 0 1 929.3,166.8Z"/></clipPath><linearGradient id="ga5" gradientUnits="userSpaceOnUse" x1="942" y1="166.8" x2="971.4" y2="222"><stop offset="0" stop-color="#fff" stop-opacity=".10"/><stop offset=".35" stop-color="#fff" stop-opacity=".04"/><stop offset="1" stop-color="#000" stop-opacity=".10"/></linearGradient><path d="M929.3,166.8H950.4A21,21 0 0 1 971.4,187.8V202.5H976.7L961.6,222L946.5,202.5H952V187.8H929.3A10.5,10.5 0 0 1 929.3,166.8Z" fill="#f95234"/><g clip-path="url(#ca5)"><path d="M938,166.8H950.4A21,21 0 0 1 971.4,187.8V202.5H976.7L961.6,222L946.5,202.5H952V187.8A14,21 0 0 0 938,166.8Z" fill="#000" fill-opacity=".3" filter="url(#b1)" transform="translate(-2,0.5)"/></g><path d="M938,166.8H950.4A21,21 0 0 1 971.4,187.8V202.5H976.7L961.6,222L946.5,202.5H952V187.8A14,21 0 0 0 938,166.8Z" fill="#f95234"/><path d="M938,166.8H950.4A21,21 0 0 1 971.4,187.8V202.5H976.7L961.6,222L946.5,202.5H952V187.8A14,21 0 0 0 938,166.8Z" fill="url(#ga5)"/></g>
<g id="arrow7"><clipPath id="ca7"><path d="M1237.8,166.8H1258.9A21,21 0 0 1 1279.9,187.8V202.5H1285.2L1270.1,222L1255,202.5H1260.5V187.8H1237.8A10.5,10.5 0 0 1 1237.8,166.8Z"/></clipPath><linearGradient id="ga7" gradientUnits="userSpaceOnUse" x1="1250.5" y1="166.8" x2="1279.9" y2="222"><stop offset="0" stop-color="#fff" stop-opacity=".10"/><stop offset=".35" stop-color="#fff" stop-opacity=".04"/><stop offset="1" stop-color="#000" stop-opacity=".10"/></linearGradient><path d="M1237.8,166.8H1258.9A21,21 0 0 1 1279.9,187.8V202.5H1285.2L1270.1,222L1255,202.5H1260.5V187.8H1237.8A10.5,10.5 0 0 1 1237.8,166.8Z" fill="#4fa3a4"/><g clip-path="url(#ca7)"><path d="M1246.5,166.8H1258.9A21,21 0 0 1 1279.9,187.8V202.5H1285.2L1270.1,222L1255,202.5H1260.5V187.8A14,21 0 0 0 1246.5,166.8Z" fill="#000" fill-opacity=".3" filter="url(#b1)" transform="translate(-2,0.5)"/></g><path d="M1246.5,166.8H1258.9A21,21 0 0 1 1279.9,187.8V202.5H1285.2L1270.1,222L1255,202.5H1260.5V187.8A14,21 0 0 0 1246.5,166.8Z" fill="#4fa3a4"/><path d="M1246.5,166.8H1258.9A21,21 0 0 1 1279.9,187.8V202.5H1285.2L1270.1,222L1255,202.5H1260.5V187.8A14,21 0 0 0 1246.5,166.8Z" fill="url(#ga7)"/></g>
<g id="arrow2"><clipPath id="ca2"><path d="M467.8,345.8H491.1V331.2H485.4L500.35,312.1L515.3,331.2H510.6V345.2A21,21 0 0 1 489.6,366.2H467.8A10.2,10.2 0 0 1 467.8,345.8Z"/></clipPath><linearGradient id="ga2" gradientUnits="userSpaceOnUse" x1="491.1" y1="312.1" x2="510.6" y2="366.2"><stop offset="0" stop-color="#fff" stop-opacity=".06"/><stop offset="1" stop-color="#000" stop-opacity=".10"/></linearGradient><path d="M467.8,345.8H491.1V331.2H485.4L500.35,312.1L515.3,331.2H510.6V345.2A21,21 0 0 1 489.6,366.2H467.8A10.2,10.2 0 0 1 467.8,345.8Z" fill="#fdb128"/><g clip-path="url(#ca2)"><path d="M491.1,345.8V331.2H485.4L500.35,312.1L515.3,331.2H510.6V345.2A21,21 0 0 1 489.6,366.2H477.1A14,20.4 0 0 0 491.1,345.8Z" fill="#000" fill-opacity=".3" filter="url(#b1)" transform="translate(-2,-0.5)"/></g><path d="M491.1,345.8V331.2H485.4L500.35,312.1L515.3,331.2H510.6V345.2A21,21 0 0 1 489.6,366.2H477.1A14,20.4 0 0 0 491.1,345.8Z" fill="#fdb128"/><path d="M491.1,345.8V331.2H485.4L500.35,312.1L515.3,331.2H510.6V345.2A21,21 0 0 1 489.6,366.2H477.1A14,20.4 0 0 0 491.1,345.8Z" fill="url(#ga2)"/></g>
<g id="arrow4"><clipPath id="ca4"><path d="M777.4,345.8H800.7V331.2H795L809.95,312.1L824.9,331.2H820.2V345.2A21,21 0 0 1 799.2,366.2H777.4A10.2,10.2 0 0 1 777.4,345.8Z"/></clipPath><linearGradient id="ga4" gradientUnits="userSpaceOnUse" x1="800.7" y1="312.1" x2="820.2" y2="366.2"><stop offset="0" stop-color="#fff" stop-opacity=".06"/><stop offset="1" stop-color="#000" stop-opacity=".10"/></linearGradient><path d="M777.4,345.8H800.7V331.2H795L809.95,312.1L824.9,331.2H820.2V345.2A21,21 0 0 1 799.2,366.2H777.4A10.2,10.2 0 0 1 777.4,345.8Z" fill="#b3c540"/><g clip-path="url(#ca4)"><path d="M800.7,345.8V331.2H795L809.95,312.1L824.9,331.2H820.2V345.2A21,21 0 0 1 799.2,366.2H786.7A14,20.4 0 0 0 800.7,345.8Z" fill="#000" fill-opacity=".3" filter="url(#b1)" transform="translate(-2,-0.5)"/></g><path d="M800.7,345.8V331.2H795L809.95,312.1L824.9,331.2H820.2V345.2A21,21 0 0 1 799.2,366.2H786.7A14,20.4 0 0 0 800.7,345.8Z" fill="#b3c540"/><path d="M800.7,345.8V331.2H795L809.95,312.1L824.9,331.2H820.2V345.2A21,21 0 0 1 799.2,366.2H786.7A14,20.4 0 0 0 800.7,345.8Z" fill="url(#ga4)"/></g>
<g id="arrow6"><clipPath id="ca6"><path d="M1086.6,345.8H1109.9V331.2H1104.2L1119.15,312.1L1134.1,331.2H1129.4V345.2A21,21 0 0 1 1108.4,366.2H1086.6A10.2,10.2 0 0 1 1086.6,345.8Z"/></clipPath><linearGradient id="ga6" gradientUnits="userSpaceOnUse" x1="1109.9" y1="312.1" x2="1129.4" y2="366.2"><stop offset="0" stop-color="#fff" stop-opacity=".06"/><stop offset="1" stop-color="#000" stop-opacity=".10"/></linearGradient><path d="M1086.6,345.8H1109.9V331.2H1104.2L1119.15,312.1L1134.1,331.2H1129.4V345.2A21,21 0 0 1 1108.4,366.2H1086.6A10.2,10.2 0 0 1 1086.6,345.8Z" fill="#3786c9"/><g clip-path="url(#ca6)"><path d="M1109.9,345.8V331.2H1104.2L1119.15,312.1L1134.1,331.2H1129.4V345.2A21,21 0 0 1 1108.4,366.2H1095.9A14,20.4 0 0 0 1109.9,345.8Z" fill="#000" fill-opacity=".3" filter="url(#b1)" transform="translate(-2,-0.5)"/></g><path d="M1109.9,345.8V331.2H1104.2L1119.15,312.1L1134.1,331.2H1129.4V345.2A21,21 0 0 1 1108.4,366.2H1095.9A14,20.4 0 0 0 1109.9,345.8Z" fill="#3786c9"/><path d="M1109.9,345.8V331.2H1104.2L1119.15,312.1L1134.1,331.2H1129.4V345.2A21,21 0 0 1 1108.4,366.2H1095.9A14,20.4 0 0 0 1109.9,345.8Z" fill="url(#ga6)"/></g>
<g id="arrow8"><clipPath id="ca8"><path d="M1418.1,345.8H1441.4V331.2H1435.7L1450.65,312.1L1465.6,331.2H1460.9V345.2A21,21 0 0 1 1439.9,366.2H1418.1A10.2,10.2 0 0 1 1418.1,345.8Z"/></clipPath><linearGradient id="ga8" gradientUnits="userSpaceOnUse" x1="1441.4" y1="312.1" x2="1460.9" y2="366.2"><stop offset="0" stop-color="#fff" stop-opacity=".06"/><stop offset="1" stop-color="#000" stop-opacity=".10"/></linearGradient><path d="M1418.1,345.8H1441.4V331.2H1435.7L1450.65,312.1L1465.6,331.2H1460.9V345.2A21,21 0 0 1 1439.9,366.2H1418.1A10.2,10.2 0 0 1 1418.1,345.8Z" fill="#575a6e"/><g clip-path="url(#ca8)"><path d="M1441.4,345.8V331.2H1435.7L1450.65,312.1L1465.6,331.2H1460.9V345.2A21,21 0 0 1 1439.9,366.2H1427.4A14,20.4 0 0 0 1441.4,345.8Z" fill="#000" fill-opacity=".3" filter="url(#b1)" transform="translate(-2,-0.5)"/></g><path d="M1441.4,345.8V331.2H1435.7L1450.65,312.1L1465.6,331.2H1460.9V345.2A21,21 0 0 1 1439.9,366.2H1427.4A14,20.4 0 0 0 1441.4,345.8Z" fill="#575a6e"/><path d="M1441.4,345.8V331.2H1435.7L1450.65,312.1L1465.6,331.2H1460.9V345.2A21,21 0 0 1 1439.9,366.2H1427.4A14,20.4 0 0 0 1441.4,345.8Z" fill="url(#ga8)"/></g>
</svg></body></html>
